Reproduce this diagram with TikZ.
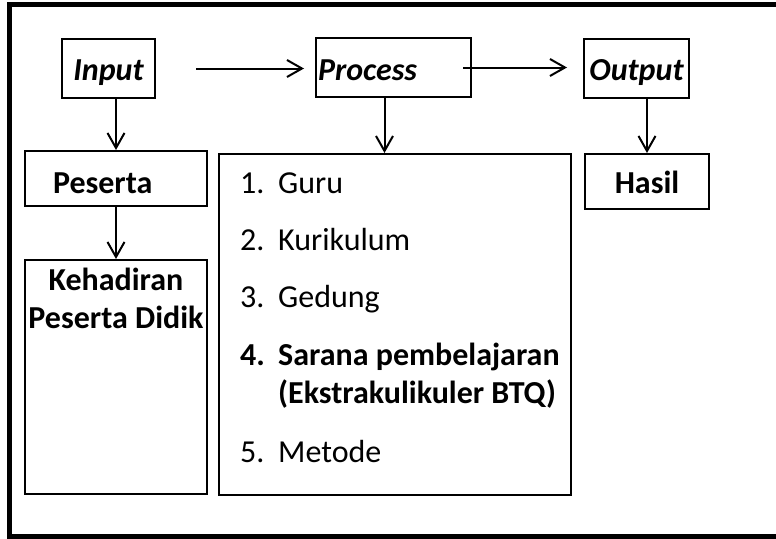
\documentclass[tikz,border=0pt]{standalone}
\usepackage{fontspec}
\setmainfont{Carlito}
\usetikzlibrary{arrows.meta}
\begin{document}
\begin{tikzpicture}[x=1pt,y=-1pt,
  every node/.style={font=\fontsize{32}{38}\selectfont},
  box/.style={draw, line width=2pt, inner sep=0pt, rectangle},
  bi/.style={font=\fontsize{32}{38}\selectfont\bfseries\itshape},
  bo/.style={font=\fontsize{32}{38}\selectfont\bfseries},
  arr/.style={line width=2pt, -{Straight Barb[length=15pt,width=17pt]}},
  txt/.style={inner sep=0pt, anchor=base west},
  ctxt/.style={inner sep=0pt, anchor=base},
]
\useasboundingbox (0,0) rectangle (776,538);
\clip (0,0) rectangle (776,538);
\draw[line width=5pt] (800,4.5) -- (9.5,4.5) -- (9.5,536) -- (800,536);

% top row
\node[box, bi, minimum width=93pt, minimum height=59pt, text height=23pt, text depth=0pt] (input) at (108.5,68.5) {Input};
\node[box, bi, minimum width=155pt, minimum height=59pt, text width=151pt, inner xsep=2pt, align=left, text height=25pt, text depth=0pt] (process) at (393.5,67.5) {Process};
\node[box, bi, minimum width=105pt, minimum height=59pt, text height=23pt, text depth=0pt] (output) at (636.5,68.5) {Output};

% second row
\node[box, bo, minimum width=182pt, minimum height=55pt, text width=126pt, inner xsep=28pt, align=left, text height=29pt, text depth=0pt] (peserta) at (116,178.5) {Peserta};
\node[box, bo, minimum width=124pt, minimum height=55pt, text height=23pt, text depth=0pt] (hasil) at (647,181.5) {Hasil};

% kehadiran
\node[box, minimum width=182pt, minimum height=234pt] (kehadiran) at (116,377) {};
\node[ctxt, bo] (khd1) at (116,290) {Kehadiran};
\node[ctxt, bo] (khd2) at (116,328) {Peserta Didik};

% list
\node[box, minimum width=352pt, minimum height=341pt] (list) at (395,324.5) {};
\node[txt] (item1) at (240,193) {\makebox[38pt][l]{1.}Guru};
\node[txt] (item2) at (240,250) {\makebox[38pt][l]{2.}Kurikulum};
\node[txt] (item3) at (240,307) {\makebox[38pt][l]{3.}Gedung};
\node[txt, bo] (item4) at (240,365) {\makebox[38pt][l]{4.}Sarana pembelajaran};
\node[txt, bo] (item4b) at (278,403) {(Ekstrakulikuler BTQ)};
\node[txt] (item5) at (240,462) {\makebox[38pt][l]{5.}Metode};

% connectors
\draw[arr, shorten <=40pt, shorten >=11pt] (input.east) -- (input.east -| process.west);
\draw[arr, shorten <=-9pt, shorten >=16pt] (process.east) -- (process.east -| output.west);
\draw[arr] (input.south -| peserta.north) -- (peserta.north);
\draw[arr] ([xshift=-9pt]process.south) -- ([xshift=-9pt]process.south |- list.north);
\draw[arr] (output.south -| hasil.north) -- (hasil.north);
\draw[arr] (peserta.south) -- (kehadiran.north);
\end{tikzpicture}
\end{document}
